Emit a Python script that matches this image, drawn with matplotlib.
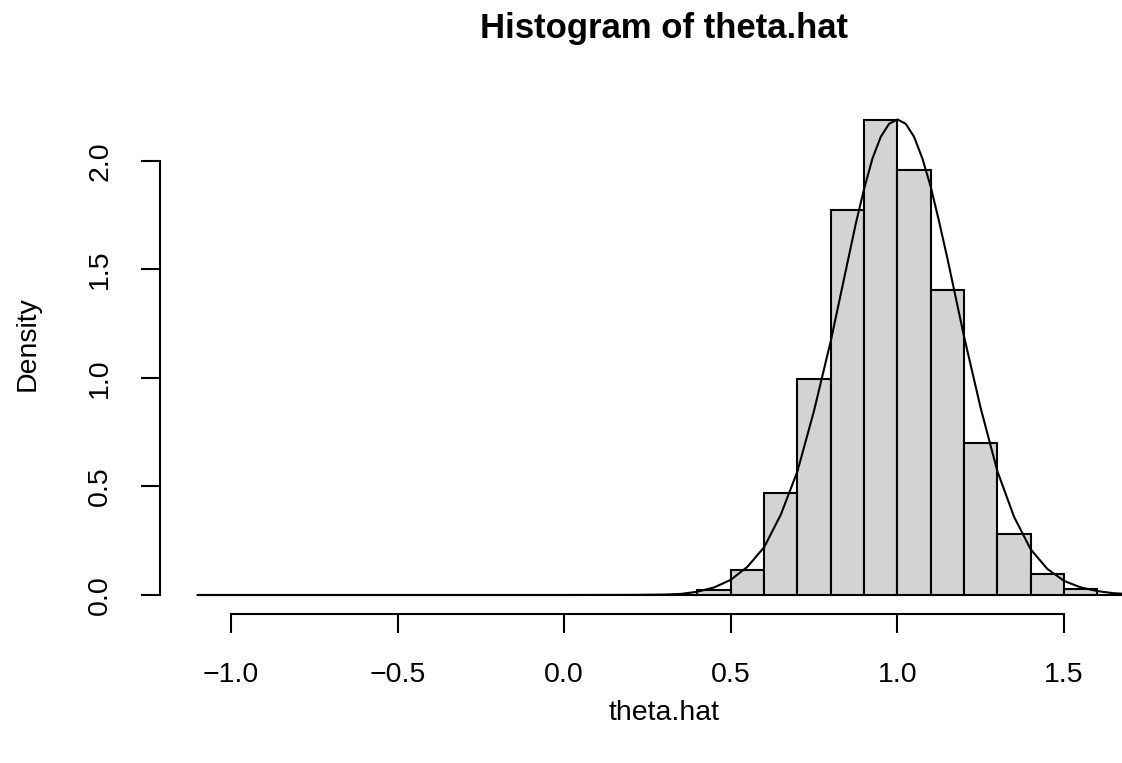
import numpy as np
import matplotlib
matplotlib.use("Agg")
import matplotlib.pyplot as plt

plt.rcParams['font.family'] = ['Liberation Sans', 'DejaVu Sans']

# histogram of theta.hat: bins of width 0.1 from -1.1 to 1.7
bin_left = [-1.1, -1.0, -0.9, -0.8, -0.7, -0.6, -0.5, -0.4, -0.3, -0.2, -0.1, 0.0,
            0.1, 0.2, 0.3, 0.4, 0.5, 0.6, 0.7, 0.8, 0.9, 1.0, 1.1, 1.2, 1.3, 1.4, 1.5, 1.6]
density = [0.002, 0.002, 0.002, 0.002, 0.0, 0.0, 0.002, 0.0, 0.0, 0.0, 0.0, 0.0,
           0.0, 0.0, 0.0, 0.025, 0.117, 0.469, 0.997, 1.773, 2.188, 1.956, 1.403, 0.702,
           0.281, 0.098, 0.027, 0.0]
bin_width = 0.1

# density curve
curve_x = [-1.1, 0.0, 0.2, 0.3, 0.35, 0.40, 0.45, 0.50, 0.55, 0.60, 0.65, 0.70, 0.75, 0.80,
           0.85, 0.875, 0.90, 0.925, 0.95, 0.975, 1.00, 1.025, 1.05, 1.075, 1.10, 1.125,
           1.15, 1.20, 1.25, 1.30, 1.35, 1.40, 1.45, 1.50, 1.55, 1.60, 1.65, 1.70, 1.80]
curve_y = [0.0, 0.0, 0.0005, 0.002, 0.005, 0.015, 0.035, 0.07, 0.13, 0.22, 0.37, 0.57, 0.85,
           1.17, 1.53, 1.71, 1.87, 2.01, 2.11, 2.17, 2.19, 2.17, 2.11, 2.01, 1.88, 1.72,
           1.55, 1.19, 0.86, 0.57, 0.36, 0.21, 0.12, 0.065, 0.035, 0.018, 0.008, 0.004, 0.001]

xticks = [-1.0, -0.5, 0.0, 0.5, 1.0, 1.5]
yticks = [0.0, 0.5, 1.0, 1.5, 2.0]

W, H = 1122, 763
fig = plt.figure(figsize=(W / 100, H / 100), dpi=100)
# plot region in pixels (R style); right edge runs past the picture
left, right, top, bottom = 160, 1168, 101, 614
ax = fig.add_axes([left / W, (H - bottom) / H, (right - left) / W, (bottom - top) / H])

ax.bar(bin_left, density, width=bin_width, align='edge', color='#d3d3d3',
       edgecolor='black', linewidth=1.5)
ax.plot(curve_x, curve_y, color='black', linewidth=1.5)

ax.set_xlim(-1.213, 1.812)
ax.set_ylim(-0.0875, 2.275)

for s in ['top', 'right']:
    ax.spines[s].set_visible(False)
ax.spines['left'].set_bounds(0, 2)
ax.spines['bottom'].set_bounds(-1, 1.5)
ax.spines['left'].set_linewidth(1.5)
ax.spines['bottom'].set_linewidth(1.5)

ax.set_xticks(xticks)
ax.set_xticklabels([f"{v:.1f}".replace('-', '\u2212') for v in xticks])
ax.set_yticks(yticks)
ax.set_yticklabels([f"{v:.1f}" for v in yticks], rotation=90, va='center')
ax.tick_params(axis='both', length=13.7, width=1.5, labelsize=20.5, direction='out')
ax.tick_params(axis='x', pad=21)
ax.tick_params(axis='y', pad=20)

fig.text(664 / W, (H - 38) / H, 'Histogram of theta.hat', ha='center', va='baseline',
         fontsize=25, fontweight='bold')
fig.text(664 / W, (H - 720) / H, 'theta.hat', ha='center', va='baseline', fontsize=20.5)
fig.text(35 / W, (H - 344) / H, 'Density', ha='center', va='baseline', rotation=90,
         rotation_mode='anchor', fontsize=20.5)

fig.savefig('out.png', dpi=100)
